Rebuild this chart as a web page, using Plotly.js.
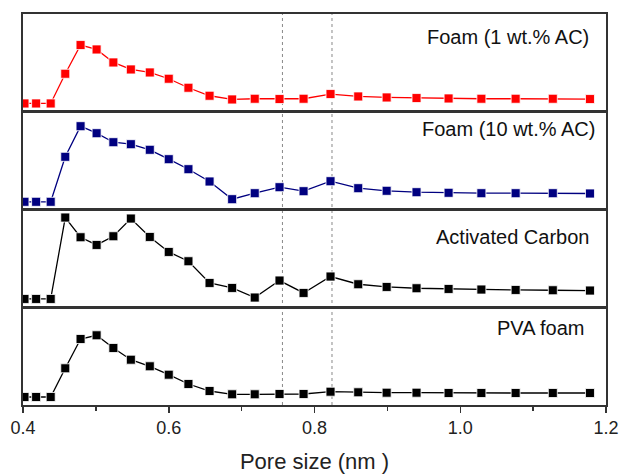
<!DOCTYPE html>
<html>
<head>
<meta charset="utf-8">
<script src="https://cdn.plot.ly/plotly-3.0.1.min.js"></script>
<style>html,body{margin:0;padding:0;background:#fff;}#chart{width:619px;height:475px;}</style>
</head>
<body>
<div id="chart"></div>
<script>
// Pore size (nm)
var poreSize = [0.402, 0.418, 0.438, 0.458, 0.479, 0.501, 0.524, 0.548, 0.574, 0.600, 0.627, 0.656, 0.687, 0.718, 0.752, 0.785, 0.822, 0.860, 0.899, 0.940, 0.984, 1.029, 1.076, 1.127, 1.178];
// Pore size distribution (arbitrary units, offset per panel)
var foam1AC  = [8.3, 8.3, 8.3, 38, 66.7, 62.3, 49.3, 42.3, 39.3, 33, 24, 16, 12.3, 13, 12.7, 13, 17.7, 15.3, 14.3, 13.7, 13.3, 13, 13, 13, 12.7];
var foam10AC = [7.7, 7.7, 7.7, 52.7, 83.3, 76.3, 67.3, 65.3, 59.7, 50.3, 40.3, 28, 10.3, 16.3, 22.3, 18.3, 28.3, 21.3, 18.7, 17.3, 16.7, 16.3, 16.3, 16.3, 16];
var actCarbon = [8.3, 8.3, 8.3, 89.7, 70, 62.3, 71, 88.7, 70.3, 55.3, 46, 24.3, 19.3, 9.7, 26.7, 14.3, 30.7, 23, 20.3, 19, 18.3, 17.7, 17.3, 17, 16.7];
var pvaFoam  = [8, 8, 8, 36.7, 66, 69.7, 57, 45.3, 38.7, 30.3, 21, 14, 10.7, 10.7, 11, 11, 13.3, 12.7, 12.3, 12.3, 12, 12, 12, 12, 12];
var seriesNames = ["Foam (1 wt.% AC)", "Foam (10 wt.% AC)", "Activated Carbon", "PVA foam"];
var seriesColors = ["#ff0000", "#000080", "#000000", "#000000"];
var refLines = [0.756, 0.824];
var xTickVals = [0.4, 0.6, 0.8, 1.0, 1.2];
var xTickText = ["0.4", "0.6", "0.8", "1.0", "1.2"];

var allSeries = [foam1AC, foam10AC, actCarbon, pvaFoam];
var font = "Liberation Sans, Arial, Helvetica, sans-serif";
var frameColor = "#333333";

var traces = allSeries.map(function (vals, i) {
  var n = i + 1;
  return {
    x: poreSize, y: vals, type: "scatter", mode: "lines+markers",
    name: seriesNames[i],
    xaxis: n === 1 ? "x" : "x" + n,
    yaxis: n === 1 ? "y" : "y" + n,
    line: {color: seriesColors[i], width: 1.3},
    marker: {symbol: "square", size: 9, color: seriesColors[i], line: {color: "rgba(255,255,255,0.8)", width: 1}},
    showlegend: false, cliponaxis: true
  };
});

var layout = {
  width: 619, height: 475,
  margin: {l: 23.3, r: 13.3, t: 14, b: 70},
  paper_bgcolor: "#ffffff", plot_bgcolor: "#ffffff",
  font: {family: font, color: "#222222"},
  showlegend: false,
  shapes: [], annotations: []
};

var domains = [[0.75, 1], [0.5, 0.75], [0.25, 0.5], [0, 0.25]];
var labelPos = [[0.975, 0.940], [0.985, 0.705], [0.974, 0.430], [0.966, 0.196]];
for (var i = 0; i < 4; i++) {
  var n = i + 1;
  var xk = n === 1 ? "xaxis" : "xaxis" + n;
  var yk = n === 1 ? "yaxis" : "yaxis" + n;
  var isBottom = (n === 4);
  var xa = {
    range: [0.4, 1.2], anchor: n === 1 ? "y" : "y" + n,
    showline: true, linecolor: frameColor, linewidth: 1.6, mirror: true,
    showgrid: false, zeroline: false, fixedrange: true
  };
  if (n !== 1) xa.matches = "x";
  if (isBottom) {
    xa.tickmode = "array"; xa.tickvals = xTickVals; xa.ticktext = xTickText;
    xa.ticks = "outside"; xa.ticklen = 6; xa.tickwidth = 1.5; xa.tickcolor = frameColor;
    xa.tickfont = {family: font, size: 18, color: "#222222"};
    xa.minor = {dtick: 0.1, tick0: 0.4, ticks: "outside", ticklen: 4, tickwidth: 1.5, tickcolor: frameColor, showgrid: false};
    xa.title = {text: "Pore size (nm )", font: {family: font, size: 22, color: "#222222"}, standoff: 16};
  } else {
    xa.showticklabels = false; xa.ticks = "";
  }
  layout[xk] = xa;
  layout[yk] = {
    domain: domains[i], range: [0, 97.75], anchor: n === 1 ? "x" : "x" + n,
    showline: true, linecolor: frameColor, linewidth: 1.6, mirror: true,
    showgrid: false, zeroline: false, showticklabels: false, ticks: "", fixedrange: true
  };
  layout.annotations.push({
    text: seriesNames[i], xref: "paper", yref: "paper",
    x: labelPos[i][0], y: labelPos[i][1], xanchor: "right", yanchor: "middle",
    showarrow: false, font: {family: font, size: 20, color: "#111111"}
  });
}
refLines.forEach(function (xv) {
  layout.shapes.push({type: "line", xref: "x", yref: "paper", x0: xv, x1: xv, y0: 0, y1: 1,
    line: {color: "#888888", width: 1, dash: "dot"}, layer: "below"});
});

Plotly.newPlot("chart", traces, layout, {displayModeBar: false, staticPlot: true});
</script>
</body>
</html>
